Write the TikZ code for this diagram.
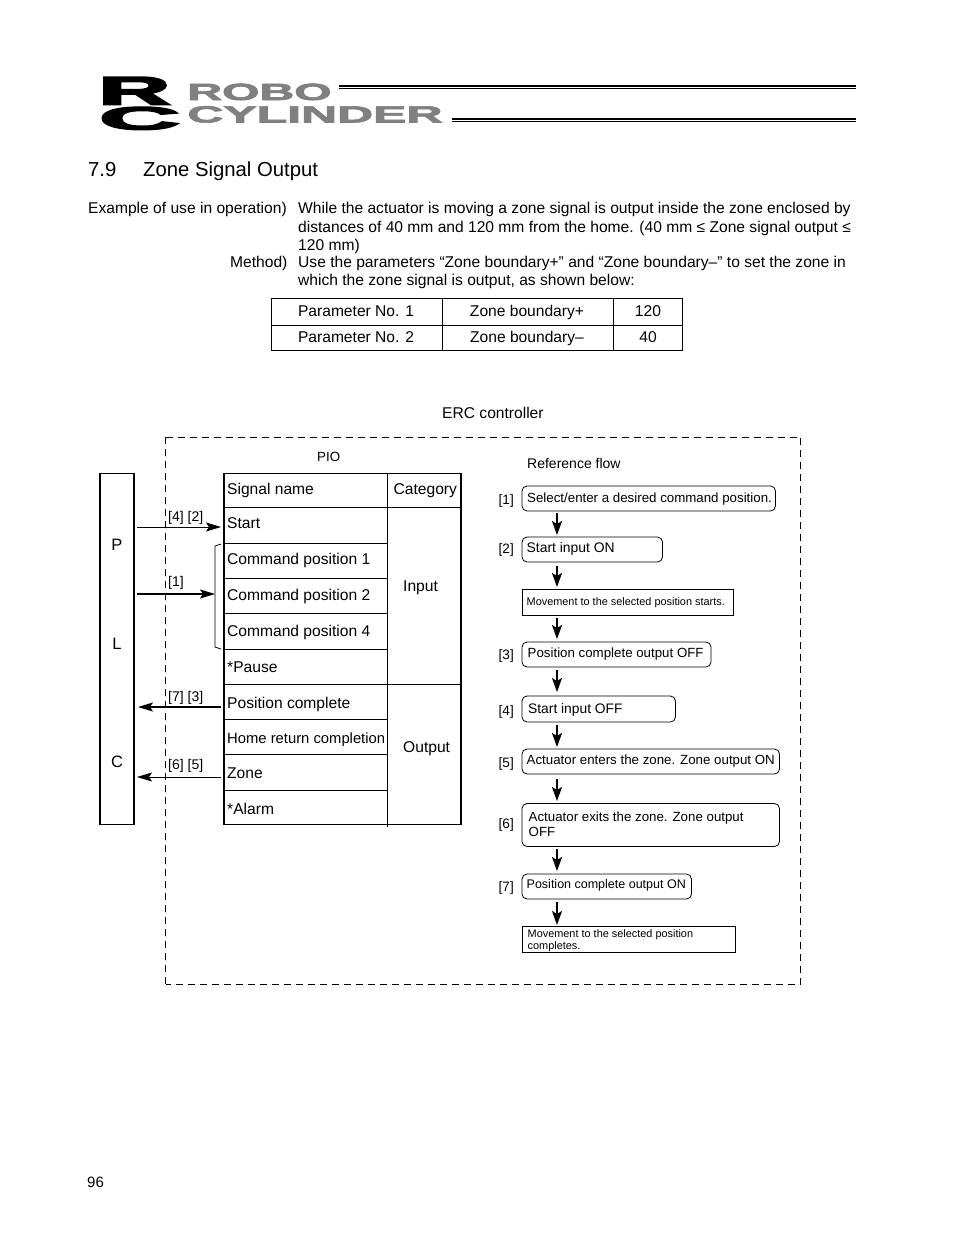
\documentclass[tikz,border=0pt]{standalone}
\usepackage{fontspec}
\setmainfont{Liberation Sans}
\newfontfamily\logofont[FakeBold=2.5]{Liberation Sans Bold}
\newfontfamily\logobig[FakeBold=4]{Liberation Sans Bold}
\usetikzlibrary{arrows.meta}
\newcommand{\fsz}[1]{\fontsize{#1}{#1}\selectfont}
\tikzset{
 x=1pt,y=-1pt,
 txt/.style={anchor=base west,inner sep=0pt,font=\fsz{15.6}},
 small/.style={anchor=base west,inner sep=0pt,font=\fsz{13.3}},
 tiny/.style={anchor=base west,inner sep=0pt,font=\fsz{10.9}},
 mid/.style={anchor=base,inner sep=0pt,font=\fsz{15.6}},
 lab/.style={anchor=base west,inner sep=0pt,font=\fsz{14}},
 flowbox/.style={draw,line width=0.8pt,rounded corners=5pt},
 plainbox/.style={draw,line width=0.9pt},
 flowarrow/.style={line width=1.8pt,-{Stealth[length=14pt,width=10pt,inset=3pt]}},
 sigthin/.style={line width=0.8pt,-{Stealth[length=15pt,width=9pt,inset=3pt]}},
 sigthick/.style={line width=1.6pt,-{Stealth[length=15pt,width=9pt,inset=3pt]}},
 grid/.style={line width=0.7pt},
 logotxt/.style={anchor=base west,inner sep=0pt,text=black!50,font=\logofont\fsz{26}},
 dashline/.style={dash pattern=on 7pt off 5pt},
}
\begin{document}
\begin{tikzpicture}
\useasboundingbox (0,0) rectangle (954,1235);
\fill[white] (0,0) rectangle (954,1235);
% logo
\node[anchor=base west,inner sep=0pt,font=\logobig\fsz{42},xscale=2.37,yscale=0.95] (logoR) at (98,104.5) {R};
\node[anchor=base west,inner sep=0pt,font=\logobig\fsz{34},xscale=3.3,yscale=0.95] (logoC) at (98.5,129.5) {C};
\node[logotxt,xscale=1.85,yscale=0.9] (robo) at (187,100) {ROBO};
\node[logotxt,xscale=1.92,yscale=0.9] (cyl) at (187,122.5) {CYLINDER};
\fill (339,84.5) rectangle (856,87);
\fill (339,88.2) rectangle (856,89.2);
\fill (452,117.5) rectangle (856,120);
\fill (452,121.2) rectangle (856,122.2);
% heading
\node[anchor=base west,inner sep=0pt,font=\fsz{20.3}] (h1) at (88,176) {7.9};
\node[anchor=base west,inner sep=0pt,font=\fsz{20.3}] (h2) at (143,176) {Zone Signal Output};
% body
\node[txt] (b1) at (88,213) {Example of use in operation)};
\node[txt] (b2) at (298,213) {While the actuator is moving a zone signal is output inside the zone enclosed by};
\node[txt] (b3) at (298,232) {distances of 40 mm and 120 mm from the home. (40 mm ≤ Zone signal output ≤};
\node[txt] (b4) at (298,250) {120 mm)};
\node[txt] (b5) at (230,267) {Method)};
\node[txt] (b6) at (298,267) {Use the parameters “Zone boundary+” and “Zone boundary–” to set the zone in};
\node[txt] (b7) at (298,285) {which the zone signal is output, as shown below:};
% parameter table
\draw[grid,line width=0.9pt] (271.5,298.5) rectangle (682.5,350.5);
\draw[grid,line width=0.9pt] (271.5,325) -- (682.5,325);
\draw[grid,line width=0.9pt] (442.5,298.5) -- (442.5,350.5) (613.5,298.5) -- (613.5,350.5);
\node[mid] (p1) at (356,316) {Parameter No. 1};
\node[mid] (p2) at (527,316) {Zone boundary+};
\node[mid] (p3) at (648,316) {120};
\node[mid] (p4) at (356,342) {Parameter No. 2};
\node[mid] (p5) at (527,342) {Zone boundary–};
\node[mid] (p6) at (648,342) {40};
\node[txt] (erc) at (442,418) {ERC controller};
% dashed outer
\draw[line width=0.9pt,dashline] (165.5,437) -- (800.5,437) -- (800.5,984) -- (165.5,984);
\draw[line width=1.4pt,dashline] (165.5,437) -- (165.5,984);
\node[small] (pio) at (317,461) {PIO};
\node[lab] (rf) at (527,468) {Reference flow};
% PLC
\draw[line width=1.3pt] (100,473.5) rectangle (134,824.5);
\node[mid,font=\fsz{16.5}] (P) at (117,550) {P};
\node[mid,font=\fsz{16.5}] (L) at (117,649) {L};
\node[mid,font=\fsz{16.5}] (C) at (117,767) {C};
% signal table
\draw[line width=1.3pt] (224,473.5) rectangle (461,824.5);
\draw[grid] (387.5,473.5) -- (387.5,827);
\draw[grid] (224,507.5) -- (461,507.5);
\draw[grid] (224,543.5) -- (387.5,543.5);
\draw[grid] (224,578.5) -- (387.5,578.5);
\draw[grid] (224,613.5) -- (387.5,613.5);
\draw[grid] (224,649.5) -- (387.5,649.5);
\draw[grid] (224,684.5) -- (461,684.5);
\draw[grid] (224,719.5) -- (387.5,719.5);
\draw[grid] (224,754.5) -- (387.5,754.5);
\draw[grid] (224,790.5) -- (387.5,790.5);
\node[txt] (s0) at (227,494) {Signal name};
\node[txt] (c0) at (393.5,494) {Category};
\node[txt] (s1) at (227,528) {Start};
\node[txt] (s2) at (227,564) {Command position 1};
\node[txt] (s3) at (227,600) {Command position 2};
\node[txt] (s4) at (227,636) {Command position 4};
\node[txt] (s5) at (227,672) {*Pause};
\node[txt] (s6) at (227,708) {Position complete};
\node[txt,font=\fsz{14.8}] (s7) at (227,743) {Home return completion};
\node[txt] (s8) at (227,778) {Zone};
\node[txt] (s9) at (227,814) {*Alarm};
\node[txt] (cin) at (403,591) {Input};
\node[txt] (cout) at (403,752) {Output};
% brace
\draw[line width=0.8pt] (221,544) -- (215,546) -- (215,647) -- (221,649);
% signal arrows
\coordinate (a1) at (137,527); \coordinate (a1e) at (221,527);
\coordinate (a2) at (137,594); \coordinate (a2e) at (215,594);
\coordinate (a3) at (221,707); \coordinate (a3e) at (138,707);
\coordinate (a4) at (221,777); \coordinate (a4e) at (137,777);
\draw[sigthin] (a1) -- (a1e);
\draw[sigthick] (a2) -- (a2e);
\draw[sigthick] (a3) -- (a3e);
\draw[sigthin] (a4) -- (a4e);
\node[lab] (l1) at (168,521) {[4] [2]};
\node[lab] (l2) at (168,586) {[1]};
\node[lab] (l3) at (168,701) {[7] [3]};
\node[lab] (l4) at (168,769) {[6] [5]};
% flow boxes
\draw[flowbox] (522,486) rectangle (775.5,511);
\coordinate (f1b) at (557,513); \coordinate (f2t) at (557,535);
\draw[flowbox] (522,537) rectangle (662.5,562);
\coordinate (f2b) at (557,566); \coordinate (f3t) at (557,587);
\draw[plainbox] (522.5,589.5) rectangle (733.5,615.5);
\coordinate (f3b) at (557,618); \coordinate (f4t) at (557,639);
\draw[flowbox] (522,642) rectangle (711,667);
\coordinate (f4b) at (557,670); \coordinate (f5t) at (557,692);
\draw[flowbox] (522,696) rectangle (675.5,722);
\coordinate (f5b) at (557,725); \coordinate (f6t) at (557,747);
\draw[flowbox] (522,749) rectangle (779.5,774);
\coordinate (f6b) at (557,779); \coordinate (f7t) at (557,801);
\draw[flowbox] (522,803.5) rectangle (779.5,846.5);
\coordinate (f7b) at (557,849); \coordinate (f8t) at (557,871);
\draw[flowbox] (522,874) rectangle (691.5,899);
\coordinate (f8b) at (557,902); \coordinate (f9t) at (557,925);
\draw[plainbox] (522.5,926.5) rectangle (735.5,952.5);
\foreach \a/\b in {f1b/f2t,f2b/f3t,f3b/f4t,f4b/f5t,f5b/f6t,f6b/f7t,f7b/f8t,f8b/f9t}
  \draw[flowarrow] (\a) -- (\b);
% flow text
\node[small] (t1) at (527,502) {Select/enter a desired command position.};
\node[small,font=\fsz{13.9}] (t2) at (526.5,552) {Start input ON};
\node[tiny] (t3) at (526.5,605) {Movement to the selected position starts.};
\node[small] (t4) at (527.5,657) {Position complete output OFF};
\node[small,font=\fsz{13.8}] (t5) at (528,713) {Start input OFF};
\node[small] (t6) at (526.5,764) {Actuator enters the zone. Zone output ON};
\node[small] (t7) at (528.5,821) {Actuator exits the zone. Zone output};
\node[small] (t7b) at (528.5,836) {OFF};
\node[small,font=\fsz{12.5}] (t8) at (526.5,888) {Position complete output ON};
\node[tiny] (t9) at (527.5,937) {Movement to the selected position};
\node[tiny] (t9b) at (527.5,949) {completes.};
\node[small,font=\fsz{13.6}] (n1) at (498.5,504) {[1]};
\node[small,font=\fsz{13.6}] (n2) at (498.5,553) {[2]};
\node[small,font=\fsz{13.6}] (n3) at (498.5,659) {[3]};
\node[small,font=\fsz{13.6}] (n4) at (498.5,715) {[4]};
\node[small,font=\fsz{13.6}] (n5) at (498.5,767) {[5]};
\node[small,font=\fsz{13.6}] (n6) at (498.5,828) {[6]};
\node[small,font=\fsz{13.6}] (n7) at (498.5,891) {[7]};
\node[anchor=base west,inner sep=0pt,font=\fsz{15}] (pg) at (87,1187) {96};
\end{tikzpicture}
\end{document}
